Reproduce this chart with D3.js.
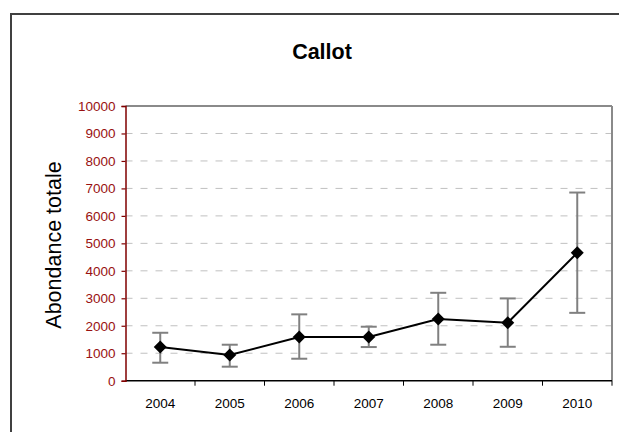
<!DOCTYPE html>
<html>
<head>
<meta charset="utf-8">
<script src="https://cdn.jsdelivr.net/npm/d3@7/dist/d3.min.js"></script>
<style>
  html, body { margin: 0; padding: 0; background: #fff; }
  svg { display: block; }
  text { font-family: "Liberation Sans", Arial, sans-serif; }
</style>
</head>
<body>
<script>
const years = ["2004", "2005", "2006", "2007", "2008", "2009", "2010"];
const means = [1225, 935, 1590, 1590, 2245, 2110, 4655];
const upper = [1745, 1310, 2415, 1965, 3200, 2995, 6850];
const lower = [655, 510, 800, 1225, 1310, 1235, 2470];
const yTicks = [0, 1000, 2000, 3000, 4000, 5000, 6000, 7000, 8000, 9000, 10000];
const title = "Callot";
const yTitle = "Abondance totale";

const W = 619, H = 432;
const svg = d3.select("body").append("svg").attr("width", W).attr("height", H);

// outer chart border
svg.append("rect").attr("x", 11).attr("y", 14).attr("width", 640).attr("height", 440)
  .attr("fill", "none").attr("stroke", "#404040").attr("stroke-width", 2);

const L = 125.5, R = 612, T = 106, B = 380.7;
const x = d3.scaleBand().domain(years).range([L, R]);
const y = d3.scaleLinear().domain([0, 10000]).range([B, T]);

// gridlines
svg.append("g").selectAll("line").data(yTicks.filter(d => d > 0 && d < 10000)).join("line")
  .attr("x1", L).attr("x2", R).attr("y1", d => y(d)).attr("y2", d => y(d))
  .attr("stroke", "#c0c0c0").attr("stroke-width", 1).attr("stroke-dasharray", "7,8");

// plot border top & right
svg.append("line").attr("x1", L).attr("x2", R).attr("y1", T).attr("y2", T)
  .attr("stroke", "#8a8a8a").attr("stroke-width", 2);
svg.append("line").attr("x1", R).attr("x2", R).attr("y1", T).attr("y2", B)
  .attr("stroke", "#8a8a8a").attr("stroke-width", 2);

// x axis
const xTickPos = years.map(d => x(d)).concat([R]);
svg.append("line").attr("x1", L).attr("x2", R).attr("y1", B).attr("y2", B)
  .attr("stroke", "#000").attr("stroke-width", 1.5);
svg.append("g").selectAll("line").data(xTickPos.slice(1)).join("line")
  .attr("x1", d => d).attr("x2", d => d).attr("y1", B).attr("y2", B + 5)
  .attr("stroke", "#000").attr("stroke-width", 1);
svg.append("g").selectAll("text").data(years).join("text")
  .attr("x", d => x(d) + x.bandwidth() / 2).attr("y", 408)
  .attr("text-anchor", "middle").attr("font-size", "13.5px").attr("fill", "#000")
  .text(d => d);

// y axis
const yAxis = d3.axisLeft(y).tickValues(yTicks).tickSize(4).tickPadding(6).tickFormat(d3.format("d"));
const yg = svg.append("g").attr("transform", `translate(${L},0)`).call(yAxis);
yg.select(".domain").attr("stroke", "#800000").attr("stroke-width", 1.5);
yg.selectAll(".tick line").attr("stroke", "#800000").attr("stroke-width", 1.2);
yg.selectAll(".tick text").attr("fill", "#991111").attr("font-size", "13.5px")
  .attr("font-family", "Liberation Sans, Arial, sans-serif");

// error bars
const cap = 8;
const eb = svg.append("g").attr("stroke", "#808080").attr("stroke-width", 2);
years.forEach((yr, i) => {
  const cx = x(yr) + x.bandwidth() / 2;
  eb.append("line").attr("x1", cx).attr("x2", cx).attr("y1", y(upper[i])).attr("y2", y(lower[i]));
  eb.append("line").attr("x1", cx - cap).attr("x2", cx + cap).attr("y1", y(upper[i])).attr("y2", y(upper[i]));
  eb.append("line").attr("x1", cx - cap).attr("x2", cx + cap).attr("y1", y(lower[i])).attr("y2", y(lower[i]));
});

// line
const pts = years.map((yr, i) => [x(yr) + x.bandwidth() / 2, y(means[i])]);
svg.append("path").attr("d", d3.line()(pts)).attr("fill", "none")
  .attr("stroke", "#000").attr("stroke-width", 2);

// markers
svg.append("g").selectAll("path").data(pts).join("path")
  .attr("transform", d => `translate(${d[0]},${d[1]})`)
  .attr("d", "M0,-6.5L6.5,0L0,6.5L-6.5,0Z").attr("fill", "#000");

// title
svg.append("text").attr("x", 322).attr("y", 59).attr("text-anchor", "middle")
  .attr("font-size", "21.5px").attr("font-weight", "bold").attr("fill", "#000").text(title);

// y title
svg.append("text").attr("transform", `translate(61,245) rotate(-90)`)
  .attr("text-anchor", "middle").attr("font-size", "21.5px").attr("fill", "#000").text(yTitle);
</script>
</body>
</html>
